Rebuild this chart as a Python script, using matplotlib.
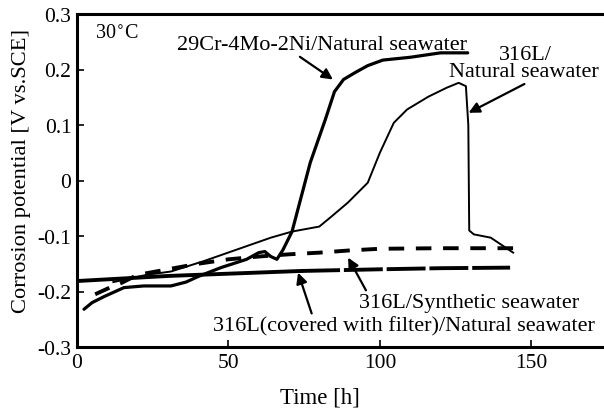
import matplotlib
matplotlib.use("Agg")
import matplotlib.pyplot as plt
import numpy as np

# 29Cr-4Mo-2Ni / Natural seawater
t_a = [2.3, 5, 9, 15.5, 22, 31, 36, 40, 47.5, 56, 60, 62, 64, 66, 68, 71, 77, 82, 85, 88, 92, 96, 101, 110, 120, 129]
v_a = [-0.232, -0.22, -0.209, -0.193, -0.19, -0.19, -0.183, -0.173, -0.157, -0.142, -0.13, -0.128, -0.137, -0.142,
       -0.125, -0.092, 0.032, 0.11, 0.16, 0.182, 0.195, 0.207, 0.217, 0.222, 0.23, 0.23]
# 316L / Natural seawater
t_b = [12, 23, 31, 42, 53, 64, 71, 80, 84, 89.4, 96, 100, 104.6, 109, 116, 122, 126, 128.4, 129.2, 129.5, 131,
       136.6, 141, 144]
v_b = [-0.183, -0.17, -0.164, -0.145, -0.124, -0.103, -0.092, -0.083, -0.065, -0.04, -0.004, 0.05, 0.104, 0.128,
       0.151, 0.167, 0.176, 0.17, 0.1, -0.09, -0.097, -0.103, -0.119, -0.13]
# 316L / Synthetic seawater
t_c = [6, 10, 14.5, 20, 30, 40, 50, 60, 70, 80, 90, 100, 120, 144]
v_c = [-0.205, -0.195, -0.185, -0.17, -0.16, -0.15, -0.142, -0.137, -0.133, -0.13, -0.126, -0.123, -0.122, -0.122]
# 316L(covered with filter) / Natural seawater
t_d = [0.5, 30, 74, 100, 120, 143]
v_d = [-0.181, -0.172, -0.163, -0.16, -0.158, -0.157]

x_ticks = [0, 50, 100, 150]
y_ticks = [-0.3, -0.2, -0.1, 0, 0.1, 0.2, 0.3]
y_ticklabels = ["-0.3", "-0.2", "-0.1", "0", "0.1", "0.2", "0.3"]

plt.rcParams['font.family'] = ['Liberation Serif', 'DejaVu Serif']
fig = plt.figure(figsize=(6.04, 4.10), dpi=100)
W, H = 604, 410
ax = fig.add_axes([77 / W, 1 - 348 / H, 527 / W, (348 - 15) / H])

ax.plot(t_a, v_a, color='black', lw=2.3, solid_capstyle='round')
ax.plot(t_b, v_b, color='black', lw=1.4)
ax.plot(t_c, v_c, color='black', lw=2.8, dashes=(4, 3))
t_d = np.array(t_d); v_d = np.array(v_d)
m1 = t_d <= 74
m2 = t_d >= 74
ax.plot(t_d[m1], v_d[m1], color='black', lw=2.8)
ax.plot(t_d[m2], v_d[m2], color='black', lw=2.8, dashes=(10, 1))

ax.set_xlim(0, 174)
ax.set_ylim(-0.3, 0.3)
ax.set_xticks(x_ticks)
ax.set_yticks(y_ticks)
ax.set_yticklabels(y_ticklabels)
ax.tick_params(direction='in', length=5, width=1.2, labelsize=15.5, pad=4)
for s in ['left', 'bottom', 'top']:
    ax.spines[s].set_linewidth(2.2)
ax.spines['right'].set_visible(False)

ax.set_xlabel("Time [h]", fontsize=16.5)
ax.xaxis.set_label_coords((320 - 77) / 527, -(388 - 348) / 333)
ax.set_ylabel("Corrosion potential [V vs.SCE]", fontsize=16.2)
ax.yaxis.set_label_coords(-(77 - 31) / 527, (348 - 171) / 333)

ax.text(6, 0.265, "30$^{\\circ}$C", fontsize=14.5, ha='left', va='center')

fs = 16
ap = dict(arrowstyle='-|>', color='black', lw=1.6, mutation_scale=16, shrinkA=0, shrinkB=0)
ax.annotate("29Cr-4Mo-2Ni/Natural seawater", xy=(84.5, 0.182), xytext=(33, 0.245),
            fontsize=fs, ha='left', va='center',
            arrowprops=dict(ap, relpos=(0.41, 0.0)))
ax.text(148, 0.227, "316L/", fontsize=fs, ha='center', va='center')
ax.annotate("Natural seawater", xy=(129.3, 0.122), xytext=(122.8, 0.196),
            fontsize=fs, ha='left', va='center',
            arrowprops=dict(ap, relpos=(0.54, 0.0)))
ax.annotate("316L/Synthetic seawater", xy=(89.5, -0.139), xytext=(93, -0.22),
            fontsize=fs, ha='left', va='center',
            arrowprops=dict(ap, relpos=(0.04, 1.0)))
ax.annotate("316L(covered with filter)/Natural seawater", xy=(73, -0.166), xytext=(45, -0.262),
            fontsize=fs, ha='left', va='center',
            arrowprops=dict(ap, relpos=(0.26, 1.0)))

fig.savefig("out.png", dpi=100)
